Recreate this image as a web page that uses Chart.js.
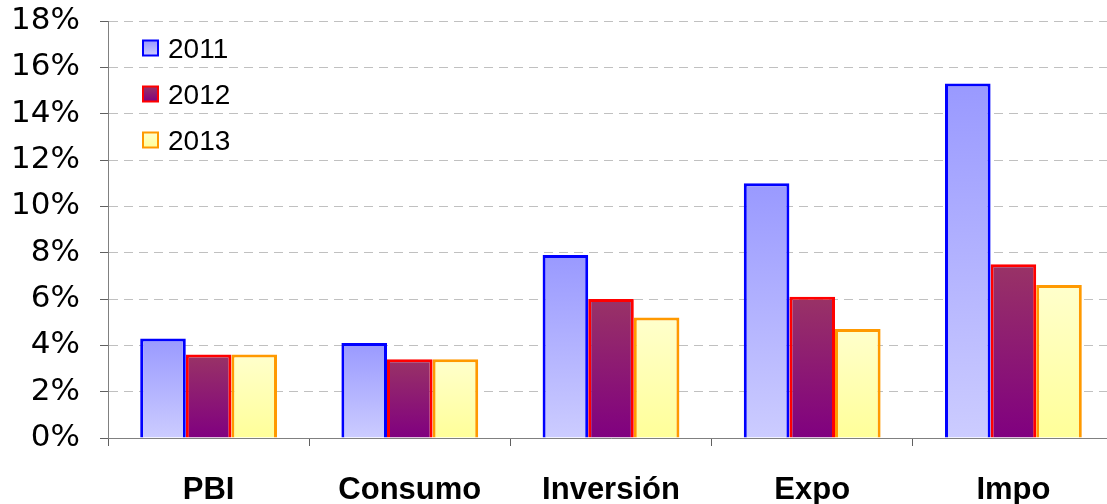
<!DOCTYPE html>
<html>
<head>
<meta charset="utf-8">
<script src="https://cdn.jsdelivr.net/npm/chart.js@4/dist/chart.umd.min.js"></script>
<style>
  html, body { margin: 0; padding: 0; background: #ffffff; overflow: hidden; }
  #wrap { width: 1114px; height: 504px; position: relative; }
</style>
</head>
<body>
<div id="wrap"><canvas id="c"></canvas></div>
<script>
const categories = ['PBI', 'Consumo', 'Inversión', 'Expo', 'Impo'];
const seriesLabels = ['2011', '2012', '2013'];
const values2011 = [4.3, 4.1, 7.9, 11.0, 15.3];
const values2012 = [3.6, 3.4, 6.0, 6.1, 7.5];
const values2013 = [3.6, 3.4, 5.2, 4.7, 6.6];
const yTickValues = [0, 2, 4, 6, 8, 10, 12, 14, 16, 18];

const styles = [
  { top: '#9999ff', bottom: '#ccccff', border: '#0000ff' },
  { top: '#993366', bottom: '#800080', border: '#ff0000' },
  { top: '#ffffcc', bottom: '#ffff99', border: '#ff9900' }
];

function gradientFill(st) {
  return function (ctx) {
    const chart = ctx.chart;
    const area = chart.chartArea;
    if (!area || ctx.type !== 'data' || !chart.scales.y) return st.bottom;
    const ys = chart.scales.y;
    const yTop = ys.getPixelForValue(ctx.raw);
    const yBase = ys.getPixelForValue(0);
    if (!isFinite(yTop) || !isFinite(yBase) || yTop === yBase) return st.bottom;
    const g = chart.ctx.createLinearGradient(0, yTop, 0, yBase);
    g.addColorStop(0, st.top);
    g.addColorStop(1, st.bottom);
    return g;
  };
}

const seriesValues = [values2011, values2012, values2013];
const datasets = seriesLabels.map((lab, i) => ({
  label: lab,
  data: seriesValues[i],
  backgroundColor: gradientFill(styles[i]),
  borderColor: styles[i].border,
  borderWidth: 3,
  borderSkipped: 'start',
  categoryPercentage: 0.68,
  barPercentage: 1.0
}));

const legendPlugin = {
  id: 'insideLegend',
  afterDraw(chart) {
    const c = chart.ctx;
    c.save();
    chart.data.datasets.forEach((ds, i) => {
      const st = styles[i];
      const cy = 48 + i * 46;
      const bx = 143, bs = 15;
      const g = c.createLinearGradient(0, cy - bs / 2, 0, cy + bs / 2);
      g.addColorStop(0, st.top);
      g.addColorStop(1, st.bottom);
      c.fillStyle = g;
      c.fillRect(bx, cy - bs / 2, bs, bs);
      c.strokeStyle = st.border;
      c.lineWidth = 2;
      c.strokeRect(bx, cy - bs / 2, bs, bs);
      c.fillStyle = '#000000';
      c.font = '28px "Liberation Sans", Arial, sans-serif';
      c.textBaseline = 'middle';
      c.textAlign = 'left';
      c.fillText(ds.label, 168, cy + 2);
    });
    c.restore();
  }
};

new Chart(document.getElementById('c'), {
  type: 'bar',
  data: { labels: categories, datasets: datasets },
  options: {
    responsive: true,
    maintainAspectRatio: false,
    animation: false,
    layout: { padding: { top: 21, right: 0, left: 0, bottom: 0 } },
    plugins: {
      legend: { display: false },
      tooltip: { enabled: false }
    },
    scales: {
      x: {
        grid: {
          display: true,
          offset: true,
          drawOnChartArea: false,
          drawTicks: true,
          tickLength: 8,
          tickColor: '#606060',
          tickWidth: 1
        },
        border: { display: true, color: '#808080', width: 1 },
        ticks: {
          color: '#000000',
          padding: 26,
          font: { family: '"Liberation Sans", Arial, sans-serif', size: 31, weight: 'bold' },
          maxRotation: 0,
          autoSkip: false
        },
        afterFit(scale) { scale.height = 66; scale.paddingLeft = 0; scale.paddingRight = 0; }
      },
      y: {
        min: 0,
        max: 18,
        afterBuildTicks(scale) { scale.ticks = yTickValues.map(v => ({ value: v })); },
        grid: {
          display: true,
          drawOnChartArea: true,
          drawTicks: true,
          tickLength: 8,
          color: '#c0c0c0',
          tickColor: '#606060',
          tickBorderDash: [],
          lineWidth: 1
        },
        border: { display: true, color: '#808080', width: 1, dash: [9, 6] },
        ticks: {
          color: '#000000',
          padding: 20,
          font: { family: '"DejaVu Sans", Verdana, sans-serif', size: 31 },
          callback: v => v + '%'
        },
        afterFit(scale) { scale.width = 108; scale.paddingTop = 0; scale.paddingBottom = 0; }
      }
    }
  },
  plugins: [legendPlugin]
});
</script>
</body>
</html>
